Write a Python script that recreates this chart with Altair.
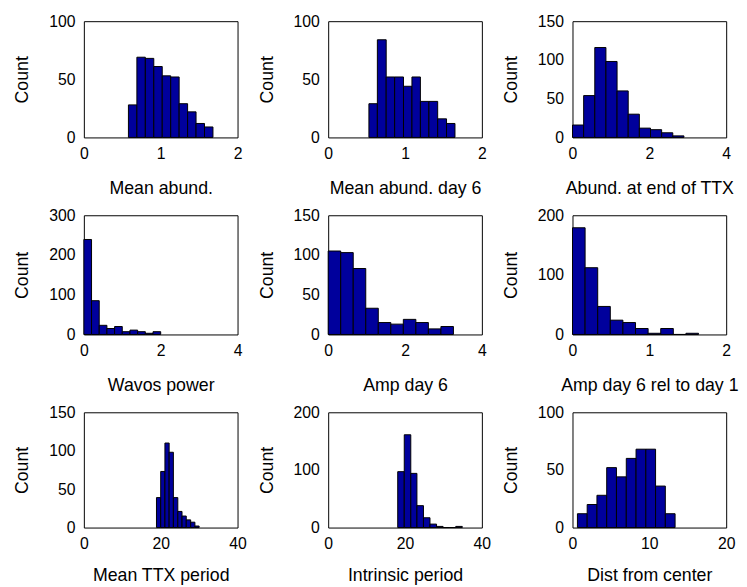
import altair as alt
import pandas as pd

BAR_COLOR = "#00009C"
FONT = "Liberation Sans"

x_titles = ["Mean abund.", "Mean abund. day 6", "Abund. at end of TTX",
            "Wavos power", "Amp day 6", "Amp day 6 rel to day 1",
            "Mean TTX period", "Intrinsic period", "Dist from center"]
y_title = "Count"

# bin edges (11 edges -> 10 bars per panel)
edges_mean_abund = [0.58, 0.69, 0.80, 0.91, 1.02, 1.13, 1.24, 1.35, 1.46, 1.57, 1.68]
counts_mean_abund = [28, 69, 68, 61, 53, 52, 29, 22, 12, 9]

edges_mean_abund_d6 = [0.53, 0.64, 0.755, 0.865, 0.98, 1.09, 1.20, 1.31, 1.425, 1.54, 1.65]
counts_mean_abund_d6 = [29, 84, 52, 52, 44, 52, 31, 31, 16, 12]

edges_abund_ttx = [0.0, 0.29, 0.58, 0.87, 1.16, 1.45, 1.74, 2.03, 2.32, 2.61, 2.90]
counts_abund_ttx = [16, 54, 116, 98, 60, 30, 12, 10, 6, 2]

edges_wavos = [0.0, 0.2, 0.4, 0.6, 0.8, 1.0, 1.2, 1.4, 1.6, 1.8, 2.0]
counts_wavos = [239, 85, 23, 15, 20, 7, 11, 7, 3, 7]

edges_amp6 = [0.0, 0.326, 0.652, 0.978, 1.304, 1.63, 1.956, 2.282, 2.608, 2.934, 3.26]
counts_amp6 = [105, 103, 83, 33, 15, 13, 19, 15, 7, 10]

edges_amp6_rel = [0.0, 0.164, 0.328, 0.492, 0.656, 0.82, 0.984, 1.148, 1.312, 1.476, 1.64]
counts_amp6_rel = [179, 112, 47, 24, 20, 10, 2, 10, 0, 2]

edges_ttx_period = [18.9, 20.0, 21.1, 22.2, 23.3, 24.45, 25.55, 26.65, 27.8, 28.9, 30.0]
counts_ttx_period = [39, 73, 110, 98, 39, 21, 15, 10, 7, 2]

edges_intrinsic = [18.1, 19.8, 21.5, 23.1, 24.8, 26.5, 28.2, 29.9, 31.5, 33.2, 34.9]
counts_intrinsic = [97, 161, 94, 38, 17, 6, 2, 0, 0, 2]

edges_dist = [0.64, 1.91, 3.18, 4.45, 5.72, 7.0, 8.27, 9.54, 10.81, 12.08, 13.35]
counts_dist = [12, 20, 28, 52, 44, 60, 68, 68, 36, 12]

all_edges = [edges_mean_abund, edges_mean_abund_d6, edges_abund_ttx,
             edges_wavos, edges_amp6, edges_amp6_rel,
             edges_ttx_period, edges_intrinsic, edges_dist]
all_counts = [counts_mean_abund, counts_mean_abund_d6, counts_abund_ttx,
              counts_wavos, counts_amp6, counts_amp6_rel,
              counts_ttx_period, counts_intrinsic, counts_dist]

x_max = [2, 2, 4, 4, 4, 2, 40, 40, 20]
y_max = [100, 100, 150, 300, 150, 200, 150, 200, 100]
x_ticks = [[0, 1, 2], [0, 1, 2], [0, 2, 4],
           [0, 2, 4], [0, 2, 4], [0, 1, 2],
           [0, 20, 40], [0, 20, 40], [0, 10, 20]]
y_ticks = [[0, 50, 100], [0, 50, 100], [0, 50, 100, 150],
           [0, 100, 200, 300], [0, 50, 100, 150], [0, 100, 200],
           [0, 50, 100, 150], [0, 100, 200], [0, 50, 100]]

row_heights = [118, 121, 117]
title_offsets = [57, 57, 54]
PW = 156


def panel(i):
    e = all_edges[i]
    df = pd.DataFrame({"lo": e[:-1], "hi": e[1:], "count": all_counts[i]})
    h = row_heights[i // 3]
    return alt.Chart(df).mark_bar(
        color=BAR_COLOR, stroke="black", strokeWidth=1
    ).encode(
        x=alt.X("lo:Q",
                scale=alt.Scale(domain=[0, x_max[i]], nice=False, zero=True),
                axis=alt.Axis(values=x_ticks[i], title=x_titles[i], format=".0f",
                              titleY=title_offsets[i // 3], titleBaseline="alphabetic",
                              labelPadding=8)),
        x2="hi:Q",
        y=alt.Y("count:Q",
                scale=alt.Scale(domain=[0, y_max[i]], nice=False),
                axis=alt.Axis(values=y_ticks[i], title=y_title, format=".0f",
                              titleX=-62, titleY=h / 2, titleBaseline="middle",
                              labelPadding=9)),
        y2=alt.datum(0),
    ).properties(width=PW, height=h)


chart = alt.concat(
    *[panel(i) for i in range(9)],
    columns=3,
    spacing={"row": 79, "column": 92},
    bounds="flush",
    align="each",
).configure_view(
    stroke="black", strokeWidth=1
).configure_axis(
    domain=False, grid=False, ticks=False, labelFlush=False,
    labelFont=FONT, labelFontSize=16, labelColor="black",
    titleFont=FONT, titleFontSize=18, titleFontWeight="normal", titleColor="black",
    labelOverlap=False,
).properties(
    padding={"left": 5, "top": 0, "right": 0, "bottom": 0},
    background="white",
)

chart.save("out.html", embed_options={"renderer": "svg", "actions": False})
